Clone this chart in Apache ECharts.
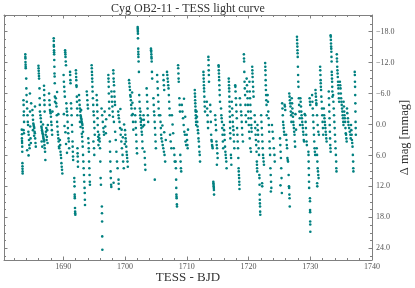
<!DOCTYPE html>
<html>
<head>
<meta charset="utf-8">
<script src="https://cdn.jsdelivr.net/npm/echarts@6/dist/echarts.min.js"></script>
<style>html,body{margin:0;padding:0;background:#fff}#c{width:415px;height:288px}</style>
</head>
<body>
<div id="c"></div>
<script>
// Light-curve points: [BJD, delta mag (mmag)]
const lc1680 = [
[1683.28,1.0],[1683.30,2.7],[1683.31,1.9],[1683.32,3.2],[1683.33,3.6],[1683.35,4.3],[1683.36,5.3],[1683.38,7.5],[1683.39,8.1],[1683.40,8.6],[1683.41,9.1],[1683.42,9.5],
[1683.55,-4.7],[1683.58,-3.8],[1683.62,-2.5],[1683.60,-1.8],[1683.65,-0.5],[1683.57,1.1],[1683.63,1.7],
[1683.85,-13.6],[1683.86,-13.1],[1683.87,-12.8],[1683.88,-12.1],[1683.90,-11.6],[1683.91,-11.2],[1683.92,-10.9],[1684.00,-8.9],
[1684.02,-7.0],[1684.05,-5.7],[1684.10,-4.4],[1684.15,-3.1],[1684.20,-1.8],[1684.25,-0.5],[1684.30,0.1],[1684.35,1.4],[1684.40,2.0],[1684.45,3.0],[1684.50,4.0],[1684.55,4.6],[1684.60,-6.0],[1684.62,-2.5],[1684.65,0.4],[1684.70,2.7],[1684.75,3.6],[1684.80,-4.1],[1684.15,5.0],[1684.38,6.0],
[1685.00,-2.8],[1685.05,-1.8],[1685.10,-0.9],[1685.15,-0.2],[1685.20,0.1],[1685.25,0.4],[1685.30,0.7],[1685.35,1.4],[1685.40,1.7],[1685.45,2.7],[1685.50,3.6],[1685.55,4.3],[1685.08,1.1],[1685.28,2.2],[1685.42,-3.5],
[1685.98,-11.4],[1686.00,-10.9],[1686.02,-10.4],[1686.04,-9.9],[1686.06,-9.4],[1686.08,-8.9],[1686.15,-7.0],[1686.18,-5.1],[1686.20,-3.8],[1686.22,-2.5],
[1686.30,-1.8],[1686.35,-1.2],[1686.40,-0.5],[1686.45,0.4],[1686.50,0.7],[1686.55,1.1],[1686.60,1.4],[1686.65,1.7],[1686.70,2.0],[1686.75,2.4],[1686.80,2.7],[1686.85,3.0],[1686.90,3.3],[1686.95,4.0],[1687.00,4.6],[1687.05,5.3],[1687.10,6.9],[1687.15,2.0],[1687.20,1.4],[1687.25,0.7],[1687.30,3.0],[1687.35,2.4],[1687.40,1.1],[1687.45,3.6],[1687.50,0.1],[1686.50,3.3],[1686.60,4.3],[1686.72,0.0],
[1686.88,-7.5],[1686.90,-6.7],[1686.92,-5.7],[1686.94,-4.7],[1686.96,-3.8],[1686.98,-2.5],
[1687.70,-6.0],[1687.75,-4.7],[1687.80,-3.8],[1687.85,-2.8],[1687.90,-2.5],[1687.95,-2.2],[1688.00,-1.5],[1688.05,-0.5],[1688.10,0.1],[1688.15,1.1],[1688.20,2.0],[1688.25,-2.5],
[1688.45,-16.7],[1688.46,-16.2],[1688.47,-15.4],[1688.48,-15.1],[1688.50,-14.4],[1688.51,-14.0],[1688.52,-13.6],[1688.54,-12.5],[1688.56,-11.2],[1688.58,-9.9],[1688.60,-9.3],[1688.62,-8.0],[1688.64,-5.4],[1688.66,-4.4],
[1688.80,-5.1],[1688.85,-4.1],[1688.90,-3.5],[1688.95,-1.8],[1689.00,-0.5],[1689.05,0.4],[1689.10,1.4],[1689.15,2.0],[1689.20,2.7],[1689.25,3.3],[1689.30,4.3],[1689.35,4.6],[1689.00,-6.3],[1689.20,-2.0],
[1689.45,3.0],[1689.50,4.0],[1689.55,5.3],[1689.60,5.9],[1689.65,6.5],[1689.70,7.5],[1689.75,8.2],[1689.80,8.8],[1689.85,9.5]
];
const lc1690 = [
[1690.30,-14.4],[1690.32,-14.0],[1690.34,-13.6],[1690.36,-13.1],[1690.40,-12.2],[1690.44,-11.5],
[1690.05,-9.6],[1690.10,-8.3],[1690.15,-7.3],[1690.20,-6.4],[1690.25,-5.4],[1690.50,-4.1],[1690.55,-3.1],[1690.60,-2.5],[1690.65,-1.8],[1690.70,-0.5],[1690.75,0.7],[1690.80,1.7],[1690.85,2.7],[1690.90,3.3],[1690.95,4.6],[1690.10,-2.0],[1690.20,0.3],[1690.35,1.5],[1690.45,3.8],[1690.60,5.5],
[1691.10,-10.2],[1691.12,-9.6],[1691.15,-8.6],[1691.18,-8.0],[1691.25,-4.1],[1691.30,-3.1],[1691.35,-1.8],[1691.40,0.1],[1691.45,1.4],[1691.50,3.3],[1691.52,4.3],[1691.55,5.3],[1691.58,6.2],[1691.60,6.9],
[1691.78,10.4],[1691.80,11.1],[1691.82,12.0],[1691.85,13.6],[1691.86,14.0],[1691.87,14.3],[1691.90,16.2],[1691.92,16.9],[1691.93,17.2],[1691.95,17.5],
[1692.05,-10.5],[1692.07,-9.9],[1692.09,-9.2],[1692.11,-8.6],[1692.13,-7.6],[1692.15,-7.3],[1692.20,-5.4],[1692.22,-4.4],[1692.25,-3.1],[1692.28,-1.8],[1692.30,4.6],[1692.32,5.6],[1692.34,6.2],[1692.36,7.2],[1692.38,8.2],
[1692.55,-5.7],[1692.60,-4.7],[1692.65,-3.8],[1692.70,-3.1],[1692.75,-2.5],[1692.80,-1.8],[1692.85,-1.5],[1692.90,-1.2],[1692.95,-0.9],[1693.00,-0.5],[1693.05,-0.2],[1693.10,0.1],[1693.15,0.7],[1693.20,1.4],[1692.70,-0.5],[1692.80,0.5],[1692.90,-2.8],[1693.00,1.8],
[1693.05,2.4],[1693.10,3.3],[1693.15,4.3],[1693.20,5.9],[1693.25,7.2],[1693.30,8.5],[1693.35,9.8],[1693.40,11.1],[1693.45,12.3],[1693.48,13.3],[1693.50,14.6],[1693.52,15.6],
[1693.80,-6.4],[1693.85,-5.7],[1693.90,-4.7],[1693.95,-3.8],[1694.00,-3.1],[1694.05,2.7],[1694.10,3.6],[1694.12,4.6],[1694.15,5.3],[1694.18,7.2],[1694.22,8.5],[1694.26,9.8],[1694.30,11.1],[1694.32,11.7],
[1694.60,-11.5],[1694.62,-10.9],[1694.64,-10.2],[1694.66,-9.6],[1694.68,-8.9],[1694.70,-8.3],[1694.72,-7.3],[1694.75,-6.4],[1694.80,-5.1],[1694.85,-3.8],[1694.90,-2.5],[1694.95,-1.8],[1695.00,-0.5],[1695.05,0.7],[1695.10,2.0],[1694.88,3.3],[1694.98,4.6],[1695.02,5.9],
[1695.40,-5.7],[1695.45,-4.7],[1695.48,-3.8],[1695.52,-2.5],[1695.55,-1.2],[1695.58,0.1],[1695.62,1.4],[1695.65,2.4],[1695.68,3.0],[1695.70,4.0],
[1695.80,2.0],[1695.85,2.7],[1695.90,3.3],[1695.95,4.6],[1696.00,7.2],[1696.05,10.4],[1696.10,11.7],[1696.25,15.9],[1696.27,17.2],[1696.29,18.8],[1696.31,21.7],[1696.33,24.3],
[1696.20,-3.1],[1696.30,-1.8],[1696.40,-0.5],[1696.50,0.7],[1696.55,1.4],[1696.60,2.0],[1696.70,-2.5],[1696.80,0.4],[1696.90,1.7],[1696.95,-1.0],
[1697.30,-9.6],[1697.32,-8.9],[1697.34,-8.3],[1697.36,-7.3],[1697.38,-6.0],[1697.42,-4.4],[1697.45,-3.1],[1697.48,-1.8],[1697.55,3.3],[1697.58,5.3],[1697.62,7.2],[1697.66,9.1],[1697.70,10.4],[1697.75,11.7],[1697.78,12.1],
[1697.80,-6.4],[1697.85,-5.4],[1697.90,-4.4],[1697.95,-3.5],[1698.00,-2.5],[1698.05,-1.5],[1698.20,-0.5],[1698.40,1.4],[1698.50,3.0],[1698.60,5.3],[1698.70,7.2],[1698.80,8.5],[1698.15,11.3],
[1698.10,-10.5],[1698.12,-9.9],[1698.15,-8.9],[1698.18,-8.3],[1698.22,-7.6],[1698.26,-6.4],[1698.30,-5.4],[1698.35,-4.4],[1698.38,-3.8],
[1698.90,-2.5],[1698.95,-1.8],[1699.00,-1.2],[1699.10,-0.5],[1699.20,0.7],[1699.30,2.0],[1699.40,3.3],[1699.50,4.6],[1699.60,5.9],[1699.70,7.2],[1699.80,8.5],[1699.25,-3.0],[1699.45,1.0],[1699.65,2.5],[1699.85,0.0],[1699.95,3.8],[1698.95,10.7],[1698.97,11.5],[1699.00,12.5]
];
const lc1700 = [
[1700.00,1.1],[1700.05,2.0],[1700.10,2.7],[1700.15,3.3],[1700.20,4.3],[1700.25,5.3],[1700.30,5.9],[1700.35,6.5],[1700.40,7.2],[1700.45,8.2],
[1700.65,-8.6],[1700.70,-8.0],[1700.75,-7.3],[1700.80,-6.7],[1700.85,-5.7],[1700.90,-5.4],[1700.95,-4.7],[1701.00,-3.8],[1701.05,-3.1],[1701.10,-1.8],[1701.15,-6.2],[1701.20,-4.2],[1701.25,-2.0],[1701.30,-0.5],[1701.35,1.0],
[1701.60,-3.1],[1701.65,-1.8],[1701.70,-0.5],[1701.75,0.7],[1701.80,2.0],[1701.85,3.3],[1701.90,4.6],[1701.95,5.6],
[1702.05,-18.9],[1702.06,-18.6],[1702.07,-18.3],[1702.08,-18.0],[1702.09,-17.6],[1702.10,-16.7],[1702.14,-14.7],[1702.15,-14.1],[1702.16,-13.6],[1702.17,-13.1],[1702.20,-12.2],[1702.25,-10.2],
[1702.30,-5.7],[1702.35,-4.4],[1702.40,-3.1],[1702.45,-1.8],[1702.50,-1.2],[1702.55,-0.5],[1702.60,0.1],[1702.65,0.7],[1702.70,1.4],[1702.75,2.0],[1702.80,3.3],[1702.85,4.6],[1702.50,-2.5],[1702.70,-0.9],[1702.90,0.4],
[1703.00,-1.8],[1703.05,-0.9],[1703.10,0.1],[1703.15,5.3],[1703.20,6.5],[1703.25,7.8],[1703.30,8.8],
[1703.50,-7.0],[1703.55,-5.7],[1703.60,-4.4],[1703.65,-3.1],[1703.70,-1.8],[1703.75,-0.5],
[1704.20,-14.7],[1704.22,-14.4],[1704.24,-14.1],[1704.26,-13.6],[1704.28,-13.1],[1704.30,-12.8],[1704.32,-12.2],[1704.36,-10.2],[1704.40,-8.9],
[1704.60,-5.1],[1704.65,-3.8],[1704.70,-2.5],[1704.75,-1.8],[1704.80,-0.5],[1704.85,0.7],[1704.90,2.0],[1704.95,3.3],[1705.00,4.6],[1704.82,10.7],
[1705.20,-9.6],[1705.25,-8.3],[1705.30,-7.0],[1705.35,-5.7],[1705.40,-4.4],[1705.45,-3.1],[1705.50,-1.8],
[1705.70,-1.8],[1705.75,-0.5],[1705.80,0.7],[1705.85,2.0],[1705.90,2.7],[1706.00,3.3],[1706.10,4.0],[1706.20,4.6],[1706.30,5.3],[1706.40,5.9],[1706.50,7.2],[1706.05,0.2],[1706.35,1.5],[1706.60,3.0],
[1706.20,-9.6],[1706.25,-8.6],[1706.30,-7.6],[1706.35,-6.7],
[1706.80,-10.2],[1706.85,-9.6],[1706.90,-8.9],[1706.95,-8.3],[1707.00,-7.6],[1707.05,-7.0],[1707.10,-5.7],[1707.15,-4.4],[1707.20,-3.1],[1707.25,-1.8],[1707.30,2.0],[1707.40,3.3],[1707.50,4.6],
[1707.60,-1.8],[1707.70,0.0],[1707.80,1.7],[1707.90,4.6],[1708.00,5.9],[1708.05,7.2],
[1708.20,7.2],[1708.24,8.5],[1708.28,10.7],[1708.30,12.3],[1708.32,13.6],[1708.34,14.0],[1708.36,14.3],[1708.40,15.5],[1708.42,15.9],
[1708.60,-11.5],[1708.62,-10.9],[1708.65,-9.9],[1708.68,-8.9],[1708.70,-8.3],[1708.80,-5.1],[1708.85,-3.8],[1708.90,-2.5],
[1708.95,5.9],[1709.00,7.2],[1709.05,8.5],[1709.10,9.1],
[1709.20,-3.8],[1709.30,-2.5],[1709.40,-1.2],[1709.50,0.1],[1709.60,1.4],[1709.70,2.0],[1709.80,3.3],[1709.90,4.0],[1709.55,-5.0],[1709.75,-1.5]
];
const lc1710 = [
[1710.00,2.0],[1710.05,3.0],[1710.10,4.0],[1710.15,4.6],[1710.20,1.0],
[1711.30,-6.7],[1711.32,-6.0],[1711.34,-5.4],[1711.36,-4.7],[1711.38,-4.1],[1711.40,-3.5],[1711.42,-2.8],[1711.44,-2.5],[1711.46,-1.8],[1711.48,-1.2],[1711.50,-0.5],[1711.52,0.1],
[1711.60,-2.5],[1711.65,-1.5],[1711.70,-0.5],[1711.75,0.4],[1711.80,1.1],[1711.85,1.7],[1711.90,2.7],[1711.95,3.3],[1712.00,4.3],[1712.05,5.3],[1712.10,5.9],[1712.15,7.2],
[1712.70,-10.2],[1712.72,-9.6],[1712.74,-8.9],[1712.76,-8.3],[1712.78,-7.6],[1712.80,-7.0],[1712.82,-6.4],[1712.85,-5.4],[1712.88,-4.4],[1712.92,-3.5],[1712.96,-2.5],
[1713.50,-13.1],[1713.52,-12.5],[1713.54,-11.5],[1713.56,-10.5],[1713.58,-9.6],[1713.60,-8.3],[1713.25,-4.4],[1713.30,-3.1],[1713.35,-1.8],[1713.40,-0.5],[1713.45,0.7],
[1713.80,-3.8],[1713.85,-2.5],[1713.90,-0.5],[1713.95,2.0],[1714.00,3.0],[1714.05,3.3],[1714.10,4.0],[1714.15,4.3],[1714.20,4.6],
[1714.30,11.1],[1714.32,11.4],[1714.34,11.7],[1714.36,12.0],[1714.38,12.3],[1714.40,12.7],[1714.42,13.6],
[1714.60,-1.8],[1714.65,-0.9],[1714.70,0.1],[1714.75,1.1],[1714.80,3.3],[1714.85,4.0],[1714.90,4.6],[1714.95,5.6],[1715.00,6.5],[1714.88,7.8],
[1715.15,-11.5],[1715.17,-11.2],[1715.19,-10.5],[1715.21,-9.9],[1715.23,-9.2],[1715.25,-8.6],[1715.28,-7.6],[1715.31,-6.7],[1715.34,-5.7],[1715.38,-4.4],
[1715.55,-3.1],[1715.60,-1.8],[1715.65,-1.2],[1715.70,-0.5],[1715.75,0.7],[1715.80,2.0],[1715.85,3.3],[1715.90,4.6],
[1716.00,0.1],[1716.05,1.1],[1716.10,2.0],[1716.15,3.0],[1716.20,4.3],[1716.25,5.3],[1716.30,5.9],[1716.35,6.5],[1716.40,7.2],[1716.45,8.5],
[1716.80,-8.9],[1716.82,-8.3],[1716.84,-7.6],[1716.86,-7.0],[1716.88,-6.4],[1716.90,-5.4],[1716.92,-4.4],[1716.94,-3.5],[1716.96,-2.5],[1716.98,-1.5],[1717.00,-0.5],[1717.02,0.7],[1717.04,1.7],[1717.06,2.7],[1717.15,5.9],[1717.18,6.5],[1717.22,7.8],
[1717.30,-4.4],[1717.35,-3.1],[1717.40,-1.8],[1717.45,-0.5],[1717.50,0.4],[1717.55,1.1],[1717.60,2.0],[1717.65,3.3],[1717.70,4.6],
[1717.85,-7.6],[1717.87,-7.3],[1717.90,-6.4],[1717.95,-5.1],[1718.00,-3.8],[1718.05,-2.5],
[1718.10,-1.2],[1718.15,0.7],[1718.20,2.0],[1718.25,3.3],[1718.30,4.6],[1718.35,6.5],[1718.40,8.5],[1718.42,9.1],[1718.45,9.8],[1718.48,10.4],[1718.50,11.1],[1718.52,11.7],[1718.54,12.5],
[1718.60,-5.1],[1718.70,-3.8],[1718.80,-2.5],[1718.85,-1.8],[1718.90,-0.5],[1718.95,0.7],[1719.00,2.0],[1719.10,3.3],
[1719.25,-13.6],[1719.27,-12.8],[1719.29,-12.2],[1719.32,-10.2],[1719.36,-8.3],[1719.40,-7.0],[1719.45,-5.7],[1719.50,-3.8],[1719.55,-1.8],[1719.60,-0.5],
[1719.70,-8.9],[1719.75,-7.6],[1719.80,-6.4],[1719.85,-5.1],[1719.90,-3.8],[1719.95,-2.5],[1720.00,-1.2],[1720.05,0.1],[1720.10,1.4]
];
const lc1720 = [
[1720.15,-8.3],[1720.20,-6.4],[1720.25,-5.1],[1720.30,-3.8],[1720.35,-2.5],[1720.40,-1.2],[1720.45,0.1],[1720.48,0.7],[1720.50,1.4],[1720.20,2.7],[1720.30,4.6],[1720.40,5.3],
[1720.60,-11.2],[1720.62,-10.5],[1720.64,-9.9],[1720.66,-9.2],[1720.70,-8.3],[1720.74,-7.3],[1720.78,-6.4],[1720.82,-5.4],
[1721.00,-1.8],[1721.05,-0.5],[1721.10,0.7],[1721.15,2.0],[1721.20,3.0],[1721.25,4.0],[1721.30,5.3],[1721.35,7.2],[1721.37,7.8],[1721.39,8.5],[1721.41,9.1],
[1721.45,0.1],[1721.50,1.1],[1721.55,2.0],[1721.60,3.3],[1721.65,4.6],[1721.70,5.9],
[1721.75,9.8],[1721.77,10.4],[1721.79,11.7],[1721.81,13.6],[1721.83,14.6],[1721.85,15.3],[1721.87,15.9],[1721.89,16.9],[1721.91,17.5],
[1722.05,-1.8],[1722.10,-0.5],[1722.15,0.7],[1722.20,2.0],[1722.25,3.3],[1722.30,4.6],[1722.35,5.9],[1722.40,6.5],[1722.45,7.2],[1722.50,7.8],[1722.20,11.4],[1722.22,12.0],
[1722.70,-11.9],[1722.72,-11.2],[1722.74,-10.5],[1722.76,-9.6],[1722.78,-8.6],[1722.80,-7.6],[1722.82,-6.7],[1722.85,-5.7],[1722.88,-4.7],[1722.92,-3.8],[1722.96,-1.8],
[1723.10,-5.7],[1723.15,-4.4],[1723.20,-2.5],[1723.25,-1.2],[1723.30,0.1],[1723.35,1.4],[1723.40,3.3],[1723.45,4.6],[1723.50,5.9],[1723.55,8.5],[1723.60,9.8],[1723.65,11.1],[1723.70,12.3],[1723.62,13.0],
[1723.80,0.1],[1723.90,1.4],[1724.00,2.7],[1724.10,4.6],[1724.20,5.9],[1724.25,7.2],
[1725.10,2.7],[1725.15,4.0],[1725.20,5.3],[1725.25,6.5],[1725.30,8.5],[1725.35,10.4],[1725.40,13.3],[1725.18,11.8],
[1725.45,-4.1],[1725.50,-3.1],[1725.55,-1.8],[1725.60,-0.5],[1725.65,0.1],[1725.70,0.7],[1725.75,1.4],[1725.80,2.0],[1725.85,-3.8],[1725.90,-3.5],[1725.95,-2.8],
[1726.10,2.0],[1726.15,3.0],[1726.20,4.0],[1726.25,4.6],[1726.30,6.5],[1726.35,6.9],[1726.40,7.2],
[1726.50,9.8],[1726.55,12.0],[1726.58,12.3],[1726.62,13.6],[1726.65,14.3],[1726.68,15.9],
[1726.60,-6.0],[1726.65,-5.4],[1726.70,-4.7],[1726.75,-4.1],[1726.80,-3.5],[1726.85,-2.5],[1726.90,-1.8],[1726.95,-0.5],
[1727.00,-5.1],[1727.05,-4.1],[1727.10,-3.1],[1727.15,-2.2],[1727.20,-1.5],[1727.25,-0.5],[1727.30,0.1],[1727.35,0.7],[1727.40,1.4],[1727.45,2.0],[1727.50,3.3],[1727.55,4.3],[1727.60,-2.0],[1727.70,1.0],
[1727.85,-17.0],[1727.87,-16.4],[1727.89,-15.7],[1727.91,-15.1],[1727.93,-14.4],[1727.95,-13.8],[1727.97,-13.1],[1728.00,-11.2],[1728.03,-9.6],[1728.06,-8.3],[1728.09,-7.3],[1728.15,-5.1],[1728.20,-3.8],[1728.25,-2.5],[1728.30,-1.2],[1728.35,0.1],
[1728.40,-5.1],[1728.45,-4.4],[1728.50,-3.5],[1728.55,-2.5],[1728.60,-1.8],[1728.65,-1.2],[1728.70,-0.5],[1728.75,0.1],[1728.80,0.7],[1728.85,1.4],[1728.90,2.0],[1728.95,3.0],[1729.00,3.3],[1729.10,-2.0],
[1729.20,-1.8],[1729.25,-0.5],[1729.30,0.7],[1729.35,2.0],[1729.40,3.3],[1729.45,4.0],
[1729.70,5.3],[1729.72,5.9],[1729.74,7.2],[1729.76,8.5],[1729.78,9.8],[1729.80,11.1],[1729.82,12.3],[1729.95,14.3],[1729.96,14.9],[1729.97,16.6],[1729.98,17.0],[1729.99,18.8],[1730.00,19.4],[1730.01,20.8],
[1729.90,-5.1],[1729.95,-4.4],[1730.00,-3.8]
];
const lc1730 = [
[1730.30,-5.7],[1730.35,-4.4],[1730.40,-3.1],[1730.45,-1.8],[1730.50,-0.5],[1730.55,0.7],[1730.60,2.0],[1730.65,3.3],[1730.70,4.6],[1730.75,5.3],[1730.80,5.9],
[1730.85,-6.7],[1730.88,-6.0],[1730.92,-5.4],[1730.95,-4.7],[1730.98,-4.1],[1731.00,-3.8],
[1731.05,4.6],[1731.10,5.9],[1731.15,7.2],[1731.20,8.5],[1731.25,9.1],[1731.30,9.8],[1731.35,10.4],[1731.10,-1.8],[1731.20,0.1],[1731.30,1.4],[1731.40,2.0],[1731.12,11.4],[1731.14,12.0],
[1731.60,-11.2],[1731.62,-10.5],[1731.65,-9.6],[1731.68,-8.6],[1731.70,-8.0],[1731.72,-7.3],[1731.75,-6.7],[1731.80,-5.4],[1731.85,-4.4],[1731.90,-3.1],[1731.95,-1.8],[1732.00,-0.5],[1732.05,0.7],[1732.10,2.0],
[1732.20,-3.1],[1732.25,-1.8],[1732.30,-1.2],[1732.35,-0.5],[1732.40,0.1],[1732.45,0.7],[1732.50,1.4],[1732.55,2.0],[1732.60,2.7],[1732.65,3.3],
[1733.00,-6.4],[1733.03,-5.1],[1733.06,-3.8],[1733.09,-2.5],[1733.12,-1.2],[1733.15,0.1],[1733.18,1.4],[1733.21,2.7],[1733.24,4.0],[1733.27,4.6],[1733.30,5.3],
[1733.30,-17.3],[1733.32,-17.0],[1733.34,-16.4],[1733.36,-15.7],[1733.38,-15.1],[1733.40,-14.7],[1733.42,-14.1],[1733.44,-13.1],[1733.46,-12.2],[1733.48,-10.2],[1733.50,-9.6],[1733.52,-8.9],[1733.54,-8.3],[1733.56,-7.3],[1733.58,-6.4],[1733.60,-5.4],
[1733.70,-5.7],[1733.75,-4.4],[1733.80,-3.1],[1733.85,-1.8],[1733.90,-0.5],[1733.95,0.7],[1734.00,2.0],[1734.05,3.3],[1734.10,4.6],[1734.15,5.9],[1734.20,7.2],[1734.22,8.5],[1734.25,9.1],
[1734.30,-13.6],[1734.32,-12.8],[1734.34,-12.2],[1734.37,-11.2],[1734.40,-10.5],[1734.43,-9.9],[1734.46,-9.2],[1734.50,-8.3],[1734.53,-7.6],[1734.56,-7.0],[1734.60,-6.0],[1734.64,-5.1],[1734.68,-4.4],
[1734.80,-8.3],[1734.85,-7.6],[1734.90,-7.0],[1734.95,-6.0],[1735.00,-5.1],[1735.05,-4.4],[1735.10,-3.8],[1735.15,-3.1],[1735.20,-2.5],[1735.25,-1.8],[1735.30,-1.2],[1735.35,-0.5],[1735.38,0.1],
[1735.40,-4.4],[1735.45,-3.5],[1735.50,-2.5],[1735.55,-1.8],[1735.60,-1.2],[1735.65,-0.5],[1735.70,0.7],[1735.75,1.7],[1735.80,2.0],[1735.85,2.7],[1735.90,3.3],
[1735.95,-3.1],[1736.00,-2.2],[1736.10,-1.2],[1736.15,-0.5],[1736.20,0.1],[1736.30,0.7],[1736.40,1.4],[1736.50,2.0],[1736.55,2.7],
[1736.60,0.1],[1736.65,1.1],[1736.70,2.0],[1736.75,3.0],[1736.80,3.6],[1736.85,4.3],[1736.90,5.9],[1736.95,7.2],[1736.97,8.5],[1736.99,9.1],
[1737.20,-10.2],[1737.22,-9.6],[1737.24,-8.3],[1737.26,-7.3],[1737.28,-5.7],[1737.30,-4.1],[1737.32,-2.5],[1737.34,-0.5],[1737.36,0.7],[1737.38,2.0]
];

// Tick positions
const xMajorTicks = [1690, 1700, 1710, 1720, 1730, 1740];
const xMinorTicks = [1682, 1684, 1686, 1688, 1692, 1694, 1696, 1698, 1702, 1704, 1706, 1708, 1712, 1714, 1716, 1718, 1722, 1724, 1726, 1728, 1732, 1734, 1736, 1738];
const yMajorTicks = [-18, -12, -6, 0, 6, 12, 18, 24];
const yMinorTicks = [-21, -19.5, -16.5, -15, -13.5, -10.5, -9, -7.5, -4.5, -3, -1.5, 1.5, 3, 4.5, 7.5, 9, 10.5, 13.5, 15, 16.5, 19.5, 21, 22.5, 25.5];

const X_MIN = 1680.4, X_MAX = 1740;
const Y_MIN = -21.23, Y_MAX = 26.28;

const points = [].concat(lc1680, lc1690, lc1700, lc1710, lc1720, lc1730);

const FONT = "'Liberation Serif', 'DejaVu Serif', serif";
const AX = '#808080';
const TXT = '#555';

function xAx(position, ticks, len, withLine, withLabel) {
  return {
    type: 'value', position: position, min: X_MIN, max: X_MAX,
    axisLine: { show: withLine, onZero: false, lineStyle: { color: AX, width: 1 } },
    axisTick: { show: true, inside: true, length: len, customValues: ticks, lineStyle: { color: AX, width: 1 } },
    axisLabel: withLabel ? { show: true, customValues: ticks, fontFamily: FONT, fontSize: 8, color: TXT, margin: 3,
      formatter: v => String(Math.round(v)) } : { show: false },
    splitLine: { show: false }
  };
}
function yAx(position, ticks, len, withLine, withLabel) {
  return {
    type: 'value', position: position, min: Y_MIN, max: Y_MAX, inverse: true,
    axisLine: { show: withLine, onZero: false, lineStyle: { color: AX, width: 1 } },
    axisTick: { show: true, inside: true, length: len, customValues: ticks, lineStyle: { color: AX, width: 1 } },
    axisLabel: withLabel ? {
      show: true, customValues: ticks, fontFamily: FONT, fontSize: 8, color: TXT, margin: 4,
      formatter: v => v.toFixed(1).replace('-', '\u2212')
    } : { show: false },
    splitLine: { show: false }
  };
}

const xMain = xAx('bottom', xMajorTicks, 3.5, true, true);
xMain.name = 'TESS - BJD';
xMain.nameLocation = 'middle';
xMain.nameGap = 11;
xMain.nameMoveOverlap = false;
xMain.nameTextStyle = { fontFamily: FONT, fontSize: 13, color: '#333', verticalAlign: 'top' };

const yMain = yAx('right', yMajorTicks, 3.5, true, true);
yMain.name = '\u0394 mag [mmag]';
yMain.nameLocation = 'middle';
yMain.nameGap = 26;
yMain.nameMoveOverlap = false;
yMain.nameTextStyle = { fontFamily: FONT, fontSize: 12.5, color: '#333' };

const chart = echarts.init(document.getElementById('c'), null, { renderer: 'canvas' });
chart.setOption({
  animation: false,
  backgroundColor: '#fff',
  title: {
    text: 'Cyg OB2-11 - TESS light curve',
    left: 188, top: 3, textAlign: 'center', padding: 0,
    textStyle: { fontFamily: FONT, fontSize: 12, fontWeight: 'normal', color: '#333' }
  },
  grid: { left: 4, right: 43, top: 15, bottom: 28, containLabel: false, outerBoundsMode: 'none' },
  xAxis: [
    xMain,
    xAx('bottom', xMinorTicks, 2, false, false),
    xAx('top', xMajorTicks, 3.5, true, false),
    xAx('top', xMinorTicks, 2, false, false)
  ],
  yAxis: [
    yMain,
    yAx('right', yMinorTicks, 2, false, false),
    yAx('left', yMajorTicks, 3.5, true, false),
    yAx('left', yMinorTicks, 2, false, false)
  ],
  series: [{
    type: 'scatter',
    xAxisIndex: 0, yAxisIndex: 0,
    data: points,
    symbol: 'circle',
    symbolSize: 2.6,
    itemStyle: { color: '#008080', opacity: 1 },
    silent: true
  }]
});
</script>
</body>
</html>
